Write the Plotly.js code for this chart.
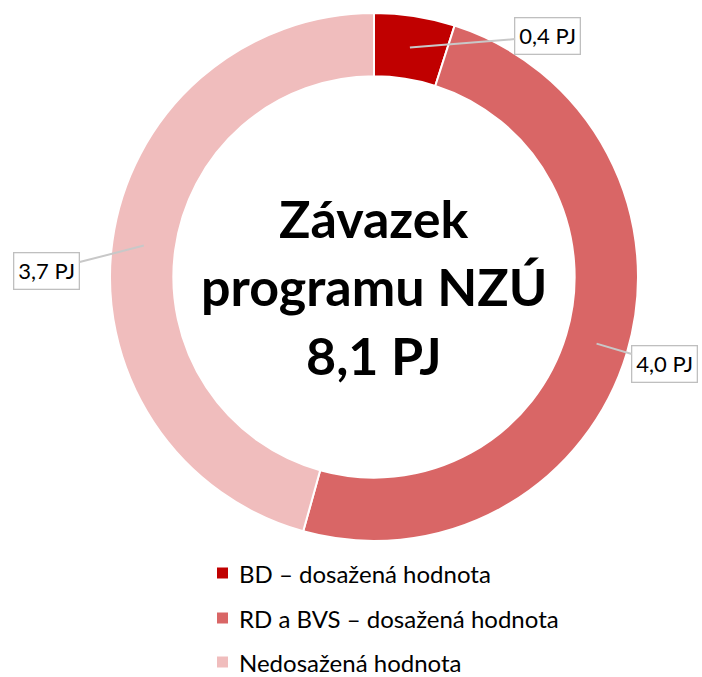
<!DOCTYPE html>
<html>
<head>
<meta charset="utf-8">
<script src="https://cdn.plot.ly/plotly-3.0.1.min.js"></script>
<style>html,body{margin:0;padding:0;background:#fff;}#chart{width:702px;height:677px;}</style>
</head>
<body>
<div id="chart"></div>
<script>
// ---- data ----
const labels = ['BD – dosažená hodnota', 'RD a BVS – dosažená hodnota', 'Nedosažená hodnota'];
const values = [0.4, 4.0, 3.7];
const colors = ['#C00000', '#D96666', '#F0BDBD'];
const valueLabels = ['0,4 PJ', '4,0 PJ', '3,7 PJ'];
const centerLines = ['Závazek', 'programu NZÚ', '8,1 PJ'];

// ---- layout constants ----
const W = 702, H = 677;
const CX = 374, CY = 277, R = 264, HOLE = 0.76;
const FONT = 'Lato, Carlito, Calibri, sans-serif';
const labelOffsets = [[138, -11], [68, 20], [-97, 25]];
const centerY = [218, 286, 355];
const legendRowY = [573, 618, 662];

const total = values.reduce((a, b) => a + b, 0);
const rMid = R * (1 + HOLE) / 2;

const annotations = [];
let cum = 0;
values.forEach((v, i) => {
  const ang = (cum + v / 2) / total * 2 * Math.PI;
  cum += v;
  const px = CX + rMid * Math.sin(ang);
  const py = CY - rMid * Math.cos(ang);
  annotations.push({
    xref: 'paper', yref: 'paper', x: px / W, y: 1 - py / H,
    text: valueLabels[i], showarrow: true, arrowhead: 0, arrowwidth: 2,
    arrowcolor: '#C8C8C8', ax: labelOffsets[i][0], ay: labelOffsets[i][1],
    axref: 'pixel', ayref: 'pixel',
    bgcolor: '#FFFFFF', bordercolor: '#BFBFBF', borderwidth: 1.3, borderpad: 4,
    font: {family: FONT, size: 22, color: '#000000'}
  });
});
centerLines.forEach((t, i) => {
  annotations.push({
    xref: 'paper', yref: 'paper', x: CX / W, y: 1 - centerY[i] / H,
    xanchor: 'center', yanchor: 'middle', showarrow: false,
    text: '<b>' + t + '</b>', font: {family: FONT, size: 52, color: '#000000'}
  });
});
const shapes = [];
labels.forEach((l, i) => {
  annotations.push({
    xref: 'paper', yref: 'paper', x: 237 / W, y: 1 - legendRowY[i] / H,
    xanchor: 'left', yanchor: 'middle', showarrow: false,
    text: l, font: {family: FONT, size: 24, color: '#000000'}
  });
  shapes.push({
    type: 'rect', xref: 'paper', yref: 'paper',
    x0: 217 / W, x1: 228 / W,
    y0: 1 - (legendRowY[i] + 5.5) / H, y1: 1 - (legendRowY[i] - 5.5) / H,
    fillcolor: colors[i], line: {width: 0}
  });
});

const trace = {
  type: 'pie', labels: labels, values: values, hole: HOLE, sort: false,
  direction: 'clockwise', rotation: 0, textinfo: 'none', hoverinfo: 'label+value',
  marker: {colors: colors, line: {color: '#FFFFFF', width: 2}},
  domain: {x: [(CX - R) / W, (CX + R) / W], y: [1 - (CY + R) / H, 1 - (CY - R) / H]},
  showlegend: false
};

const layout = {
  width: W, height: H, margin: {l: 0, r: 0, t: 0, b: 0},
  paper_bgcolor: '#FFFFFF', plot_bgcolor: '#FFFFFF',
  font: {family: FONT, color: '#000000'},
  showlegend: false, annotations: annotations, shapes: shapes
};
Plotly.newPlot('chart', [trace], layout, {displayModeBar: false, staticPlot: true});
</script>
</body>
</html>
